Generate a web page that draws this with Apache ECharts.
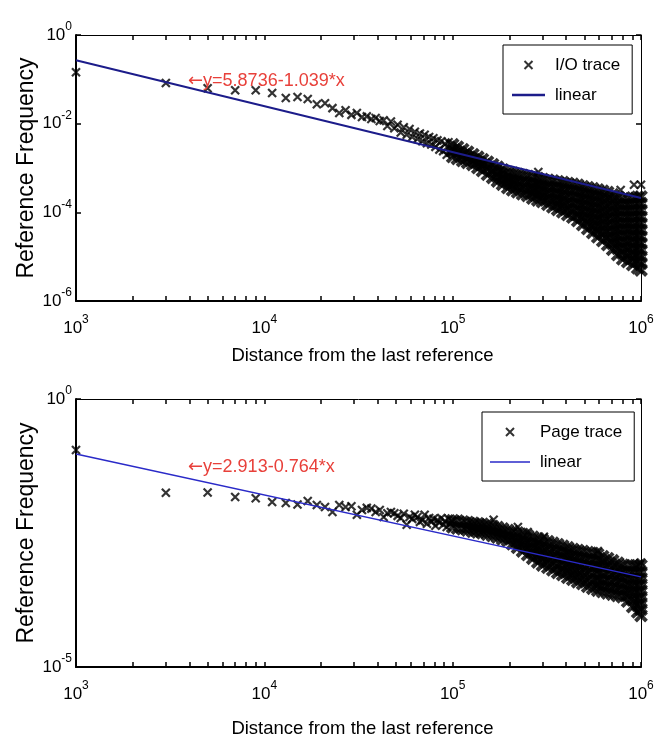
<!DOCTYPE html>
<html>
<head>
<meta charset="utf-8">
<script src="https://cdn.jsdelivr.net/npm/echarts@6/dist/echarts.min.js"></script>
<style>
	html, body { margin: 0; padding: 0; background: #fff; }
	#chart { width: 665px; height: 738px; }
</style>
</head>
<body>
<div id="chart"></div>
<script>
	// values (x = distance, y = reference frequency)
	var ioHead = [[1e3,0.145],[3e3,0.083],[5e3,0.063],[7e3,0.057],[9e3,0.057],[11e3,0.049],[13e3,0.038],[15e3,0.040],
		[17e3,0.036],[19e3,0.0275],[21e3,0.029],[23e3,0.0224],[25e3,0.0174],[27e3,0.020],[29e3,0.0158],[31e3,0.0174],
		[33e3,0.0141],[35e3,0.0146],[37e3,0.0128],[39e3,0.0134],[41e3,0.0115],[43e3,0.0120],[45e3,0.0089],[47e3,0.0112],
		[49e3,0.0079],[51e3,0.0095],[53e3,0.0063],[55e3,0.0083],[57e3,0.0056],[59e3,0.0076],[61e3,0.0050],[63e3,0.0066],
		[65e3,0.0045],[67e3,0.0060],[69e3,0.0040],[71e3,0.0056],[73e3,0.0036],[75e3,0.0050],[77e3,0.0034],[79e3,0.0047],
		[81e3,0.0030],[83e3,0.0042],[85e3,0.0026],[87e3,0.0040],[89e3,0.0024],[91e3,0.0035],[93e3,0.0020],[95e3,0.0038],
		[97e3,0.0022],[99e3,0.0028]];
	// dense cloud: one column of estimated values per distance
	var ioTail = [
		[100e3,[3.34e-3,2.45e-3,1.80e-3]],[106e3,[2.96e-3,2.20e-3,1.64e-3]],[113e3,[2.59e-3,1.95e-3,1.47e-3]],
		[120e3,[2.29e-3,1.75e-3,1.33e-3]],[128e3,[2.0e-3,1.55e-3,1.20e-3]],[136e3,[1.75e-3,1.33e-3,1.02e-3]],
		[144e3,[1.55e-3,1.16e-3,8.7e-4]],[153e3,[1.36e-3,9.9e-4,7.2e-4]],[163e3,[1.19e-3,8.5e-4,6.1e-4]],
		[173e3,[1.04e-3,8.2e-4,6.5e-4,5.1e-4]],[184e3,[9.1e-4,7.1e-4,5.5e-4,4.3e-4]],[196e3,[8.0e-4,6.1e-4,4.7e-4,3.6e-4]],
		[208e3,[7.6e-4,5.7e-4,4.3e-4,3.2e-4]],[221e3,[7.2e-4,5.3e-4,3.9e-4,2.9e-4]],[235e3,[6.8e-4,5.0e-4,3.6e-4,2.6e-4]],
		[250e3,[6.5e-4,4.6e-4,3.3e-4,2.4e-4]],[266e3,[6.1e-4,4.7e-4,3.6e-4,2.8e-4,2.1e-4]],
		[283e3,[5.8e-4,4.4e-4,3.3e-4,2.5e-4,1.9e-4]],[300e3,[5.5e-4,4.1e-4,3.1e-4,2.3e-4,1.74e-4]],
		[320e3,[5.3e-4,3.9e-4,2.8e-4,2.07e-4,1.51e-4]],[340e3,[5.1e-4,3.6e-4,2.6e-4,1.86e-4,1.33e-4]],
		[361e3,[4.9e-4,3.7e-4,2.75e-4,2.07e-4,1.55e-4,1.16e-4]],[384e3,[4.7e-4,3.5e-4,2.5e-4,1.88e-4,1.39e-4,1.02e-4]],
		[408e3,[4.5e-4,3.3e-4,2.35e-4,1.70e-4,1.23e-4,8.9e-5]],[434e3,[4.3e-4,3.1e-4,2.18e-4,1.55e-4,1.10e-4,7.8e-5]],
		[461e3,[4.1e-4,3.0e-4,2.21e-4,1.63e-4,1.20e-4,8.8e-5,6.5e-5]],
		[490e3,[3.8e-4,2.76e-4,1.98e-4,1.43e-4,1.03e-4,7.4e-5,5.3e-5]],
		[521e3,[3.6e-4,2.66e-4,1.96e-4,1.45e-4,1.07e-4,7.9e-5,5.8e-5,4.3e-5]],
		[554e3,[3.4e-4,2.45e-4,1.77e-4,1.28e-4,9.2e-5,6.7e-5,4.8e-5,3.5e-5]],
		[589e3,[3.2e-4,2.36e-4,1.74e-4,1.29e-4,9.5e-5,7.0e-5,5.2e-5,3.8e-5,2.8e-5]],
		[626e3,[3.0e-4,2.17e-4,1.58e-4,1.14e-4,8.3e-5,6.0e-5,4.4e-5,3.2e-5,2.3e-5]],
		[665e3,[2.8e-4,2.01e-4,1.43e-4,1.02e-4,7.3e-5,5.2e-5,3.7e-5,2.6e-5,1.87e-5]],
		[707e3,[2.49e-4,1.82e-4,1.32e-4,9.7e-5,7.0e-5,5.1e-5,3.7e-5,2.7e-5,2.0e-5,1.46e-5]],
		[752e3,[2.18e-4,1.57e-4,1.13e-4,8.1e-5,5.8e-5,4.2e-5,3.0e-5,2.16e-5,1.55e-5,1.11e-5]],
		[799e3,[2.01e-4,1.47e-4,1.08e-4,7.9e-5,5.8e-5,4.2e-5,3.1e-5,2.26e-5,1.66e-5,1.21e-5,8.9e-6]],
		[849e3,[2.07e-4,1.49e-4,1.07e-4,7.7e-5,5.5e-5,4.0e-5,2.86e-5,2.06e-5,1.48e-5,1.06e-5,7.7e-6]],
		[903e3,[2.12e-4,1.55e-4,1.13e-4,8.2e-5,6.0e-5,4.4e-5,3.2e-5,2.32e-5,1.69e-5,1.23e-5,9.0e-6,6.6e-6]],
		[960e3,[2.19e-4,1.57e-4,1.12e-4,8.1e-5,5.8e-5,4.1e-5,2.97e-5,2.13e-5,1.53e-5,1.09e-5,7.9e-6,5.6e-6]],
		[1000e3,[2.24e-4,1.58e-4,1.12e-4,7.9e-5,5.6e-5,4.0e-5,2.82e-5,2.0e-5,1.41e-5,1.0e-5,7.1e-6,5.0e-6]]];
	var ioExtra = [[285e3,8.1e-4],[780e3,3.2e-4],[918e3,4.2e-4],[1000e3,4.2e-4]];
	var ioFit = [[1e3,0.27],[1e6,2.1e-4]];

	var pageHead = [[1e3,0.112],[3e3,0.0178],[5e3,0.018],[7e3,0.0148],[9e3,0.0141],[11e3,0.012],[13e3,0.0115],[15e3,0.0108],
		[17e3,0.0125],[19e3,0.0105],[21e3,0.0097],[23e3,0.0078],[25e3,0.0105],[27e3,0.0097],[29e3,0.010],[31e3,0.0069],
		[33e3,0.0085],[35e3,0.0093],[37e3,0.009],[39e3,0.0078],[41e3,0.0085],[43e3,0.0063],[45e3,0.0074],[47e3,0.0078],
		[49e3,0.0074],[51e3,0.0066],[53e3,0.006],[55e3,0.0072],[57e3,0.0045],[59e3,0.0063],[61e3,0.0058],[63e3,0.0069],
		[65e3,0.0063],[67e3,0.0051],[69e3,0.0055],[71e3,0.0069],[73e3,0.0047],[75e3,0.006],[77e3,0.0051],[79e3,0.0058],
		[81e3,0.0043],[83e3,0.0055],[85e3,0.0049],[87e3,0.006],[89e3,0.0045],[91e3,0.0053],[93e3,0.0041],[95e3,0.0058],
		[97e3,0.0047],[99e3,0.0053]];
	var pageTail = [
		[100e3,[5.4e-3,4.1e-3]],[106e3,[5.3e-3,3.9e-3]],[113e3,[5.1e-3,3.8e-3]],[120e3,[5.0e-3,4.2e-3,3.6e-3]],
		[128e3,[4.8e-3,4.1e-3,3.4e-3]],[136e3,[4.7e-3,3.9e-3,3.3e-3]],[144e3,[4.6e-3,3.8e-3,3.2e-3]],
		[153e3,[4.5e-3,3.7e-3,3.0e-3]],[163e3,[4.2e-3,3.45e-3,2.82e-3]],[173e3,[4.0e-3,3.24e-3,2.64e-3]],
		[184e3,[3.77e-3,3.04e-3,2.46e-3]],[196e3,[3.55e-3,2.85e-3,2.29e-3]],[208e3,[3.36e-3,2.58e-3,1.98e-3]],
		[221e3,[3.17e-3,2.58e-3,2.10e-3,1.71e-3]],[235e3,[2.98e-3,2.35e-3,1.85e-3,1.46e-3]],
		[250e3,[2.81e-3,2.14e-3,1.63e-3,1.25e-3]],[266e3,[2.64e-3,2.10e-3,1.68e-3,1.34e-3,1.07e-3]],
		[283e3,[2.49e-3,1.94e-3,1.51e-3,1.17e-3,9.1e-4]],[300e3,[2.34e-3,1.79e-3,1.37e-3,1.05e-3,8.0e-4]],
		[320e3,[2.19e-3,1.66e-3,1.25e-3,9.5e-4,7.2e-4]],[340e3,[2.05e-3,1.54e-3,1.15e-3,8.7e-4,6.5e-4]],
		[361e3,[1.92e-3,1.43e-3,1.06e-3,7.9e-4,5.8e-4]],[384e3,[1.80e-3,1.41e-3,1.10e-3,8.6e-4,6.7e-4,5.3e-4]],
		[408e3,[1.68e-3,1.31e-3,1.01e-3,7.9e-4,6.1e-4,4.7e-4]],[434e3,[1.57e-3,1.21e-3,9.3e-4,7.2e-4,5.5e-4,4.3e-4]],
		[461e3,[1.50e-3,1.15e-3,8.7e-4,6.7e-4,5.1e-4,3.9e-4]],[490e3,[1.44e-3,1.09e-3,8.2e-4,6.2e-4,4.7e-4,3.6e-4]],
		[521e3,[1.37e-3,1.03e-3,7.7e-4,5.8e-4,4.3e-4,3.2e-4]],[554e3,[1.32e-3,9.8e-4,7.2e-4,5.4e-4,4.0e-4,2.95e-4]],
		[589e3,[1.26e-3,9.8e-4,7.6e-4,5.8e-4,4.5e-4,3.5e-4,2.7e-4]],[626e3,[1.15e-3,8.9e-4,7.0e-4,5.4e-4,4.2e-4,3.3e-4,2.55e-4]],
		[665e3,[1.05e-3,7.8e-4,5.8e-4,4.3e-4,3.2e-4,2.4e-4]],[707e3,[9.6e-4,7.2e-4,5.4e-4,4.0e-4,3.0e-4,2.28e-4]],
		[752e3,[8.7e-4,6.6e-4,5.0e-4,3.8e-4,2.84e-4,2.15e-4]],[799e3,[7.9e-4,6.0e-4,4.6e-4,3.5e-4,2.67e-4,2.03e-4]],
		[849e3,[7.8e-4,6.0e-4,4.7e-4,3.6e-4,2.8e-4,2.18e-4,1.69e-4]],[903e3,[7.8e-4,5.8e-4,4.3e-4,3.2e-4,2.4e-4,1.79e-4,1.34e-4]],
		[960e3,[7.8e-4,5.8e-4,4.4e-4,3.3e-4,2.5e-4,1.88e-4,1.42e-4,1.07e-4]],
		[1000e3,[7.8e-4,5.9e-4,4.5e-4,3.5e-4,2.66e-4,2.04e-4,1.56e-4,1.19e-4,9.1e-5]]];
	var pageExtra = [[165e3,5.6e-3],[222e3,4.1e-3],[250e3,3.3e-3],[305e3,2.7e-3],[590e3,1.45e-3],[935e3,7.4e-4],[1000e3,8.9e-4]];
	var pageFit = [[1e3,0.094],[1e6,4.8e-4]];

	var xTicks = [1e3,2e3,3e3,4e3,5e3,6e3,7e3,8e3,9e3,1e4,2e4,3e4,4e4,5e4,6e4,7e4,8e4,9e4,
		1e5,2e5,3e5,4e5,5e5,6e5,7e5,8e5,9e5,1e6];

	// 稀疏点用普通 x 标记，密集区加粗以免出现网格纹
	function flat(head, tail, extra) {
		var out = head.concat(extra);
		tail.forEach(function (g) {
			g[1].forEach(function (y) {
				out.push({ value: [g[0], y], symbolSize: 11, itemStyle: { borderWidth: 4 } });
			});
		});
		return out;
	}

	var font = "'Liberation Sans',Arial,sans-serif";
	var xMark = 'path://M0,0L10,10M10,0L0,10';

	function supLabel(v) {
		var e = Math.round(Math.log(v) / Math.LN10);
		return '{b|10}{s|' + e + '}';
	}
	var rich = {
		b: { fontSize: 17, fontFamily: font, color: '#000', lineHeight: 28 },
		s: { fontSize: 12, fontFamily: font, color: '#000', verticalAlign: 'top', lineHeight: 12 }
	};
	var noteRich = {
		a: { fontSize: 18, fontFamily: "'DejaVu Sans',sans-serif", fill: '#e8403a', color: '#e8403a' },
		t: { fontSize: 18, fontFamily: font, fill: '#e8403a', color: '#e8403a' }
	};

	function xAxes(g, gap) {
		return [{
			type: 'log', logBase: 10, gridIndex: g, position: 'bottom', min: 1e3, max: 1e6, interval: 1,
			name: 'Distance from the last reference', nameLocation: 'middle', nameGap: gap,
			nameTextStyle: { fontFamily: font, fontSize: 18.5, color: '#000', padding: [0, 0, 0, 8] },
			axisLine: { lineStyle: { color: '#000', width: 2 } },
			axisTick: { inside: true, length: 5, customValues: xTicks, lineStyle: { color: '#000', width: 1.5 } },
			axisLabel: { formatter: supLabel, margin: 13, rich: rich },
			splitLine: { show: false }
		}, {
			type: 'log', logBase: 10, gridIndex: g, position: 'top', min: 1e3, max: 1e6, interval: 1,
			axisLine: { lineStyle: { color: '#000', width: 1 } },
			axisTick: { inside: true, length: 5, customValues: xTicks, lineStyle: { color: '#000', width: 1.5 } },
			axisLabel: { show: false },
			splitLine: { show: false }
		}];
	}
	function yAxes(g, min, step) {
		return [{
			type: 'log', logBase: 10, gridIndex: g, position: 'left', min: min, max: 1, interval: step,
			name: 'Reference Frequency', nameLocation: 'middle', nameGap: 38, nameMoveOverlap: false,
			nameTextStyle: { fontFamily: font, fontSize: 23, color: '#000' },
			axisLine: { lineStyle: { color: '#000', width: 2 } },
			axisTick: { inside: true, length: 5, lineStyle: { color: '#000', width: 1.5 } },
			axisLabel: { formatter: supLabel, margin: 4, rich: rich },
			splitLine: { show: false }
		}, {
			type: 'log', logBase: 10, gridIndex: g, position: 'right', min: min, max: 1, interval: step,
			axisLine: { lineStyle: { color: '#000', width: 1 } },
			axisTick: { inside: true, length: 5, lineStyle: { color: '#000', width: 1.5 } },
			axisLabel: { show: false },
			splitLine: { show: false }
		}];
	}

	var myChart = echarts.init(document.getElementById('chart'), null, { renderer: 'canvas' });
	var option = {
		animation: false,
		backgroundColor: '#fff',
		grid: [
			{ left: 76, top: 35, width: 565, height: 266, containLabel: false, outerBoundsMode: 'none' },
			{ left: 76, top: 399, width: 565, height: 268, containLabel: false, outerBoundsMode: 'none' }
		],
		xAxis: xAxes(0, 45).concat(xAxes(1, 52)),
		yAxis: yAxes(0, 1e-6, 2).concat(yAxes(1, 1e-5, 5)),
		legend: [{
			orient: 'vertical', left: 503, top: 45, padding: [9, 12, 8, 9], itemGap: 8,
			itemWidth: 33, itemHeight: 8, selectedMode: false,
			borderColor: '#000', borderWidth: 1, backgroundColor: '#fff',
			textStyle: { fontFamily: font, fontSize: 17, lineHeight: 22, color: '#000', padding: [0, 0, 0, 5] },
			data: [
				{ name: 'I/O trace', itemStyle: { color: 'none', borderColor: '#000', borderWidth: 2 } },
				{ name: 'linear', icon: 'path://M0,0L40,0L40,3L0,3Z', itemStyle: { color: '#1c1c8a', borderWidth: 0 } }
			]
		}, {
			orient: 'vertical', left: 482, top: 412, padding: [9, 12, 8, 8], itemGap: 8,
			itemWidth: 40, itemHeight: 8, selectedMode: false,
			borderColor: '#000', borderWidth: 1, backgroundColor: '#fff',
			textStyle: { fontFamily: font, fontSize: 17, lineHeight: 22, color: '#000', padding: [0, 0, 0, 5] },
			data: [
				{ name: 'Page trace', itemStyle: { color: 'none', borderColor: '#000', borderWidth: 2 } },
				{ name: 'linear', icon: 'path://M0,0L40,0L40,1.5L0,1.5Z', itemStyle: { color: '#2a2ac8', borderWidth: 0 } }
			]
		}],
		graphic: [
			{ type: 'text', left: 188, top: 72, z: 10,
				style: { text: '{a|\u2190}{t|y=5.8736-1.039*x}', rich: noteRich, fill: '#e8403a' } },
			{ type: 'text', left: 188, top: 458, z: 10,
				style: { text: '{a|\u2190}{t|y=2.913-0.764*x}', rich: noteRich, fill: '#e8403a' } }
		],
		series: [
			{
				name: 'I/O trace', type: 'scatter', xAxisIndex: 0, yAxisIndex: 0,
				data: flat(ioHead, ioTail, ioExtra),
				symbol: xMark, symbolSize: 8, silent: true, z: 2,
				itemStyle: { color: 'none', borderColor: '#000', borderWidth: 2.2 }
			},
			{
				name: 'linear', type: 'line', xAxisIndex: 0, yAxisIndex: 0,
				data: ioFit, symbol: 'none', silent: true, z: 3,
				lineStyle: { color: '#1c1c8a', width: 2 }
			},
			{
				name: 'Page trace', type: 'scatter', xAxisIndex: 2, yAxisIndex: 2,
				data: flat(pageHead, pageTail, pageExtra),
				symbol: xMark, symbolSize: 8, silent: true, z: 2,
				itemStyle: { color: 'none', borderColor: '#000', borderWidth: 2.2 }
			},
			{
				name: 'linear', type: 'line', xAxisIndex: 2, yAxisIndex: 2,
				data: pageFit, symbol: 'none', silent: true, z: 3,
				lineStyle: { color: '#2a2ac8', width: 1.5 }
			}
		]
	};
	myChart.setOption(option);
</script>
</body>
</html>
